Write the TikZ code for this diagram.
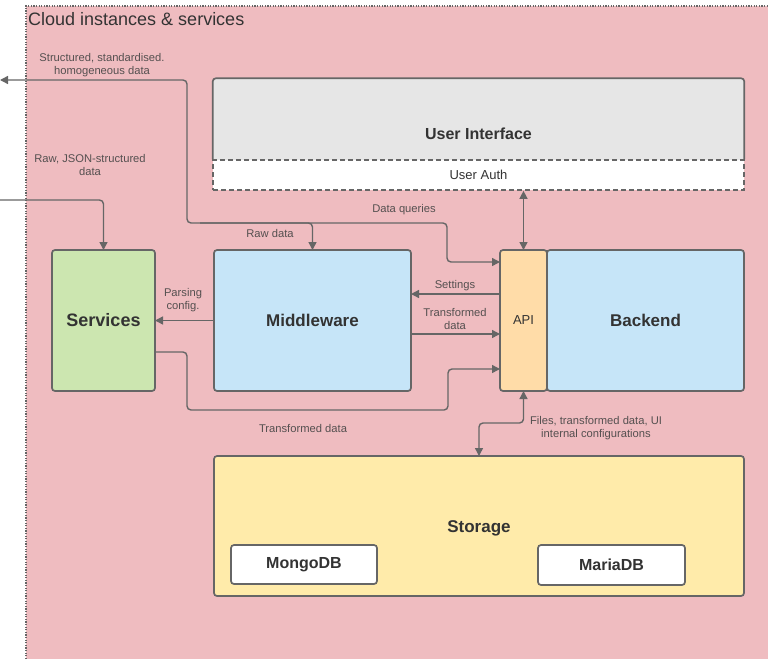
\documentclass[tikz,border=0pt]{standalone}
\usepackage{fontspec}
\setmainfont{Liberation Sans}
\usetikzlibrary{arrows.meta,calc}
\definecolor{bgpink}{RGB}{239,188,192}
\definecolor{uigray}{RGB}{230,230,230}
\definecolor{svcgreen}{RGB}{204,230,176}
\definecolor{mwblue}{RGB}{198,229,248}
\definecolor{apiorange}{RGB}{255,220,168}
\definecolor{styellow}{RGB}{255,235,170}
\definecolor{linegray}{RGB}{102,102,102}
\definecolor{textdark}{RGB}{51,51,51}
\definecolor{labelgray}{RGB}{85,80,80}
\begin{document}
\begin{tikzpicture}[x=1pt,y=-1pt,
  box/.style={draw=linegray, line width=1.7pt, rounded corners=3pt, inner sep=0pt, outer sep=0pt,
    text=textdark, font=\bfseries\fontsize{17}{20}\selectfont},
  lbl/.style={text=labelgray, font=\fontsize{11.2}{13}\selectfont, align=center, inner sep=0pt},
  tip/.tip={Triangle[length=8pt,width=8pt]},
  conn/.style={draw=linegray, line width=1.4pt, rounded corners=4pt, -tip},
  dconn/.style={draw=linegray, line width=1.4pt, rounded corners=4pt, tip-tip}
]
\useasboundingbox (0,0) rectangle (768,659);
% container
\fill[bgpink] (26,6) rectangle (768,659);
\draw[linegray, line width=1.3pt, dash pattern=on 1.3pt off 1.3pt] (26,659) -- (26,6) -- (768,6);
\node[anchor=west, inner sep=0pt, text=textdark, font=\fontsize{18}{21}\selectfont] (title) at (28,19) {Cloud instances \& services};

% User interface
\node[fill=uigray, inner sep=0pt, minimum width=531pt, minimum height=111pt, rounded corners=3pt,
  text=textdark, font=\bfseries\fontsize{16}{19}\selectfont] (ui) at (478.5,134) {User Interface};
\coordinate (uiL) at ($(ui.north west)+(0,81)$);
\coordinate (uiR) at ($(ui.north east)+(0,81)$);
\draw[linegray, line width=1.7pt, rounded corners=3pt] (uiL) -- (ui.north west) -- (ui.north east) -- (uiR);
\node[fill=white, draw=linegray, line width=1.7pt, dash pattern=on 5pt off 3pt, inner sep=0pt,
  minimum width=531pt, minimum height=30pt, text=textdark, font=\fontsize{13}{15}\selectfont] (auth) at (478.5,175) {User Auth};

% main row
\node[box, fill=svcgreen, minimum width=103pt, minimum height=141pt, font=\bfseries\fontsize{18}{21}\selectfont] (svc) at (103.5,320.5) {Services};
\node[box, fill=mwblue, minimum width=197pt, minimum height=141pt] (mw) at (312.5,320.5) {Middleware};
\node[box, fill=apiorange, minimum width=47pt, minimum height=141pt, font=\fontsize{13}{15}\selectfont] (api) at (523.5,320.5) {API};
\node[box, fill=mwblue, minimum width=197pt, minimum height=141pt] (be) at (645.5,320.5) {Backend};

% storage
\node[box, fill=styellow, minimum width=530pt, minimum height=140pt] (st) at (479,526) {};
\node[inner sep=0pt, text=textdark, font=\bfseries\fontsize{17}{20}\selectfont] (stlbl) at (479,528) {Storage};
\node[box, fill=white, minimum width=146pt, minimum height=39pt, font=\bfseries\fontsize{16}{19}\selectfont] (mongo) at (304,564.5) {MongoDB};
\node[box, fill=white, minimum width=147pt, minimum height=40pt, font=\bfseries\fontsize{16}{19}\selectfont] (maria) at (611.5,565) {MariaDB};

% exterior coordinates
\coordinate (extA) at (0,80);
\coordinate (extB) at (0,200);
\coordinate (q1) at ($(api.north west)+(0,12)$);
\coordinate (s1) at ($(api.north west)+(0,44)$);
\coordinate (t1) at ($(mw.north east)+(0,84)$);
\coordinate (u1) at ($(svc.north east)+(0,102)$);
\coordinate (u2) at ($(api.north west)+(0,119)$);
\coordinate (j1) at (200,223);

% connectors
\draw[dconn] (q1) -- (447,262) -- (447,223) -- (187,223) -- (187,80) -- (extA);
\draw[conn] (j1) -| (mw.north);
\draw[conn] (extB) -| (svc.north);
\draw[conn] (mw.west) -- (svc.east);
\draw[conn] (s1) -- (s1 -| mw.east);
\draw[conn] (t1) -- (t1 -| api.west);
\draw[conn] (u1) -- (187,352) -- (187,410) -- (448,410) -- (448,369) -- (u2);
\draw[dconn] (api.north) -- (api.north |- auth.south);
\draw[dconn] (api.south) |- (479,423) -- (st.north);

% labels
\node[lbl] (l1) at (102,65) {Structured, standardised.\\homogeneous data};
\node[lbl] (l2) at (90,165) {Raw, JSON-structured\\data};
\node[lbl] (l3) at (404,210) {Data queries};
\node[lbl] (l4) at (270,233) {Raw data};
\node[lbl] (l5) at (183,300) {Parsing\\config.};
\node[lbl] (l6) at (455,286) {Settings};
\node[lbl] (l7) at (455,319) {Transformed\\data};
\node[lbl] (l8) at (303,428) {Transformed data};
\node[lbl] (l9) at (596,428) {Files, transformed data, UI\\internal configurations};
\end{tikzpicture}
\end{document}
